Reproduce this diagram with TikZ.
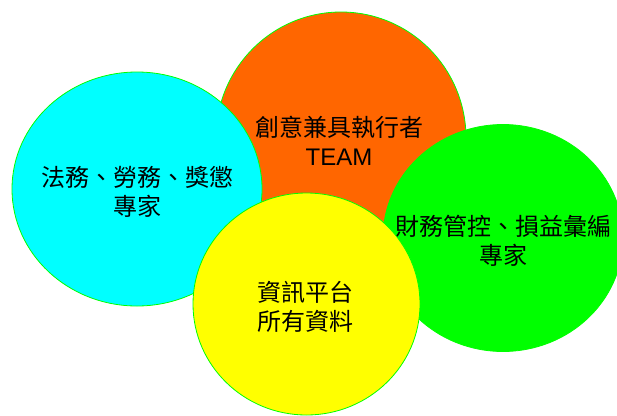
\documentclass[tikz,border=0pt]{standalone}
\usepackage{fontspec}
\setmainfont{Liberation Sans}
\newfontfamily\cjk{Noto Sans CJK TC}
\usetikzlibrary{shapes.geometric}
\definecolor{edgegreen}{HTML}{00FF00}
\definecolor{orangefill}{HTML}{FF6600}
\definecolor{cyanfill}{HTML}{00FFFF}
\definecolor{greenfill}{HTML}{00FF00}
\definecolor{yellowfill}{HTML}{FFFF00}
\begin{document}
\begin{tikzpicture}[x=1pt,y=-1pt,
  blob/.style={ellipse, draw=edgegreen, line width=0.8pt, inner sep=0pt},
  lbl/.style={align=center, inner sep=0pt, font=\cjk\fontsize{24}{28.5}\selectfont}]
\clip (0,0) rectangle (617,415);
\node[blob, fill=orangefill, minimum width=250pt, minimum height=252pt] (orange) at (341,138) {};
\node[lbl] (orangetxt) at (339,141) {創意兼具執行者\\{\rmfamily TEAM}};
\node[blob, fill=cyanfill, minimum width=250pt, minimum height=234pt] (cyan) at (137,189) {};
\node[lbl] (cyantxt) at (137,192) {法務、勞務、獎懲\\專家};
\node[blob, fill=greenfill, minimum width=240pt, minimum height=227pt] (green) at (503,238) {};
\node[lbl] (greentxt) at (503,241) {財務管控、損益彙編\\專家};
\node[blob, fill=yellowfill, minimum width=227pt, minimum height=222pt] (yellow) at (306.5,304) {};
\node[lbl] (yellowtxt) at (305,307) {資訊平台\\所有資料};
\end{tikzpicture}
\end{document}
